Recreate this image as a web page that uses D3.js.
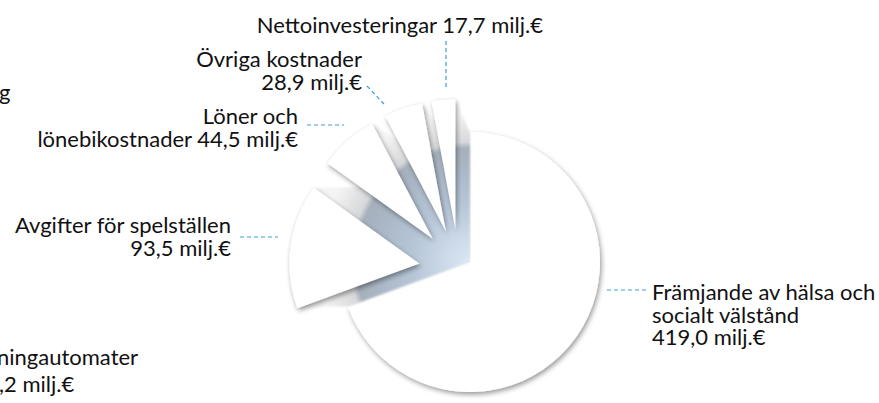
<!DOCTYPE html>
<html>
<head>
<meta charset="utf-8">
<script src="https://cdn.jsdelivr.net/npm/d3@7"></script>
<style>
  html, body { margin: 0; padding: 0; background: #fff; }
  svg { display: block; }
</style>
</head>
<body>
<script>
// data
const categories = ["Främjande av hälsa och socialt välstånd", "Avgifter för spelställen",
  "Löner och lönebikostnader", "Övriga kostnader", "Nettoinvesteringar"];
const values = [419.0, 93.5, 44.5, 28.9, 17.7];
const labelLines = [
  ["Främjande av hälsa och", "socialt välstånd"],
  ["Avgifter för spelställen"],
  ["Löner och", "lönebikostnader"],
  ["Övriga kostnader"],
  ["Nettoinvesteringar"]
];
const unit = "milj.€";
// pieces of labels from a neighbouring chart, cut off at the left edge
const cutLabels = ["g", "ningautomater", ",2 milj.€"];

var width = 879, height = 403;
var radius = 130;
var center = [470, 262];      // main slice / vanishing point
var explodeCenter = [459, 269];
var explode = 40;

var fmt = d3.formatLocale({decimal: ",", thousands: " ", grouping: [3], currency: ["", "€"]}).format(".1f");

var pie = d3.pie().sort(null).value(d => d);
var arcs = pie(values);
var arc = d3.arc().innerRadius(0).outerRadius(radius);

function offsetOf(d, i) {
  if (i === 0) return center;
  var a = (d.startAngle + d.endAngle) / 2;
  return [explodeCenter[0] + explode * Math.sin(a), explodeCenter[1] - explode * Math.cos(a)];
}

var svg = d3.select("body").append("svg")
    .attr("width", width)
    .attr("height", height)
    .attr("font-family", "Lato, 'Open Sans', sans-serif");

var defs = svg.append("defs");
var shadow = defs.append("filter").attr("id", "shadow")
    .attr("x", "-20%").attr("y", "-20%").attr("width", "140%").attr("height", "140%");
shadow.append("feDropShadow")
    .attr("dx", 1.5).attr("dy", 2.5).attr("stdDeviation", 2.6)
    .attr("flood-color", "#000").attr("flood-opacity", 0.4);

var soft = defs.append("filter").attr("id", "soft");
soft.append("feGaussianBlur").attr("stdDeviation", 1.3);

var grad = defs.append("radialGradient").attr("id", "side")
    .attr("gradientUnits", "userSpaceOnUse")
    .attr("cx", center[0]).attr("cy", center[1]).attr("r", 150);
[[0, "#dae7f4"], [0.15, "#cddbea"], [0.4, "#b6c5d6"], [0.62, "#aab7c6"], [0.76, "#a7b0bc"],
 [0.8, "#d6d8db"], [0.9, "#e6e6e6"], [1, "#f4f4f4"]]
  .forEach(([o, c]) => grad.append("stop").attr("offset", o).attr("stop-color", c));

// side faces of the pulled-out slices: sweep each slice back to the centre (used as a mask)
var steps = 30;
var mask = defs.append("mask").attr("id", "sweep")
    .attr("maskUnits", "userSpaceOnUse")
    .attr("x", 0).attr("y", 0).attr("width", width).attr("height", height);
var sweepG = mask.append("g").attr("filter", "url(#soft)");
arcs.slice(1).forEach(function(d, j) {
  var p = offsetOf(d, j + 1);
  d3.range(steps + 1).forEach(function(k) {
    var t = k / steps;
    var x = center[0] + (p[0] - center[0]) * t;
    var y = center[1] + (p[1] - center[1]) * t;
    sweepG.append("path")
        .attr("d", arc(d))
        .attr("transform", `translate(${x},${y})`)
        .attr("fill", "#fff");
  });
});

// main slice
svg.append("path")
    .attr("d", arc(arcs[0]))
    .attr("transform", `translate(${center})`)
    .attr("fill", "#fff")
    .attr("filter", "url(#shadow)");

svg.append("rect")
    .attr("width", width)
    .attr("height", height)
    .attr("fill", "url(#side)")
    .attr("mask", "url(#sweep)");

// top faces
svg.append("g")
  .selectAll("path")
  .data(arcs.slice(1))
  .join("path")
    .attr("d", arc)
    .attr("transform", (d, j) => `translate(${offsetOf(d, j + 1)})`)
    .attr("fill", "#fff")
    .attr("filter", "url(#shadow)");

// leader lines
var leaders = [
  [[607, 290], [646, 290]],
  [[240, 237], [278, 237]],
  [[307, 125], [344, 125]],
  [[367, 86], [384, 104]],
  [[446, 41], [446, 90]]
];
svg.append("g")
    .attr("stroke", "#3d9be0")
    .attr("stroke-width", 1.2)
    .attr("stroke-dasharray", "4,3")
  .selectAll("line")
  .data(leaders)
  .join("line")
    .attr("x1", d => d[0][0]).attr("y1", d => d[0][1])
    .attr("x2", d => d[1][0]).attr("y2", d => d[1][1]);

// labels
var lineH = 22.5;
var labelPos = [
  {x: 652, y: 300, anchor: "start", inline: false},
  {x: 231, y: 233, anchor: "end", inline: false},
  {x: 298, y: 124, anchor: "end", inline: true},
  {x: 362, y: 67, anchor: "end", inline: false},
  {x: 543, y: 33, anchor: "end", inline: true}
];
var labels = svg.append("g")
    .attr("font-size", 22)
    .attr("fill", "#111");
labelLines.forEach(function(lines, i) {
  var pos = labelPos[i];
  var valueText = fmt(values[i]) + " " + unit;
  var rows = lines.slice();
  if (pos.inline) rows[rows.length - 1] += " " + valueText;
  else rows.push(valueText);
  var text = labels.append("text")
      .attr("text-anchor", pos.anchor)
      .attr("x", pos.x)
      .attr("y", pos.y);
  rows.forEach((r, k) => text.append("tspan")
      .attr("x", pos.x)
      .attr("dy", k ? lineH : 0)
      .text(r));
});

// cut-off labels at the left edge
var cutPos = [[-1, 100], [-3, 365], [-1, 392]];
labels.selectAll("text.cut")
  .data(cutLabels)
  .join("text")
    .attr("class", "cut")
    .attr("x", (d, i) => cutPos[i][0])
    .attr("y", (d, i) => cutPos[i][1])
    .text(d => d);
</script>
</body>
</html>
